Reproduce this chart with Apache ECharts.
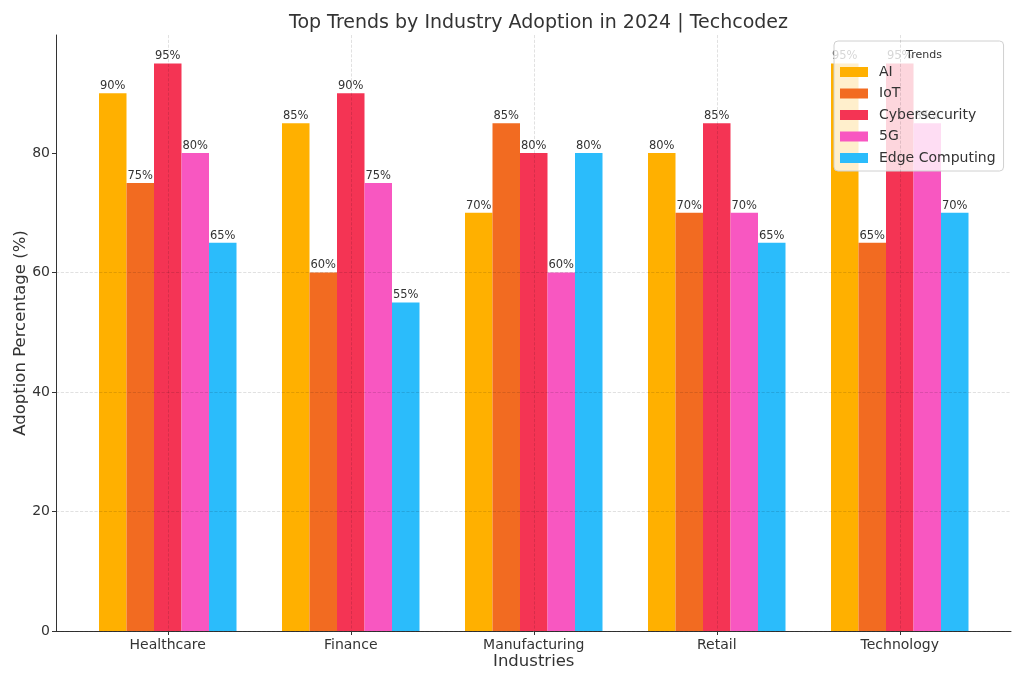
<!DOCTYPE html>
<html>
<head>
<meta charset="utf-8">
<script src="https://cdn.jsdelivr.net/npm/echarts@6/dist/echarts.min.js"></script>
<style>html,body{margin:0;padding:0;background:#fff}#c{width:1024px;height:683px}</style>
</head>
<body>
<div id="c"></div>
<script>
const categories = ['Healthcare', 'Finance', 'Manufacturing', 'Retail', 'Technology'];
const seriesNames = ['AI', 'IoT', 'Cybersecurity', '5G', 'Edge Computing'];
const aiValues = [90, 85, 70, 80, 95];
const iotValues = [75, 60, 85, 70, 65];
const cyberValues = [95, 90, 80, 85, 95];
const fiveGValues = [80, 75, 60, 70, 85];
const edgeValues = [65, 55, 80, 65, 70];
const yTicks = [0, 20, 40, 60, 80];
const colors = ['#FFB000', '#F26B21', '#F43454', '#F857C1', '#2BBCFB'];
const allValues = [aiValues, iotValues, cyberValues, fiveGValues, edgeValues];

const FONT = 'DejaVu Sans';
const yMax = 99.75;

const chart = echarts.init(document.getElementById('c'));
const series = seriesNames.map((name, i) => ({
  name: name,
  type: 'bar',
  xAxisIndex: 1,
  yAxisIndex: 1,
  data: allValues[i],
  barWidth: 27.5,
  barGap: '0%',
  itemStyle: { color: colors[i] },
  label: {
    show: true,
    position: 'top',
    distance: 1,
    formatter: '{c}%',
    fontFamily: FONT,
    fontSize: 11.5,
    color: '#333'
  },
  emphasis: { disabled: true },
  animation: false
}));

chart.setOption({
  animation: false,
  textStyle: { fontFamily: FONT },
  title: [
    {
      text: 'Top Trends by Industry Adoption in 2024 | Techcodez',
      left: 533.5,
      textAlign: 'center',
      top: 9,
      textStyle: { fontFamily: FONT, fontSize: 19, fontWeight: 'normal', color: '#333' }
    },
    {
      text: 'Trends',
      left: 919,
      textAlign: 'center',
      top: 45,
      z: 10,
      textStyle: { fontFamily: FONT, fontSize: 11, fontWeight: 'normal', color: '#333' }
    }
  ],
  legend: {
    orient: 'vertical',
    left: 834,
    top: 41,
    padding: [23, 8, 5, 6],
    itemWidth: 28,
    itemHeight: 10,
    itemGap: 5.5,
    icon: 'rect',
    backgroundColor: 'rgba(255,255,255,0.8)',
    borderColor: '#d0d0d0',
    borderWidth: 1,
    borderRadius: 4,
    textStyle: { fontFamily: FONT, fontSize: 14, color: '#333', lineHeight: 16, padding: [0, 0, 0, 6] },
    data: seriesNames
  },
  grid: [
    { left: 56, right: 13, top: 35, bottom: 52 },
    { left: 76.25, right: 32.75, top: 35, bottom: 52 }
  ],
  xAxis: [
    {
      type: 'value', gridIndex: 0, min: 0, max: 1,
      axisLine: { show: true, onZero: false, lineStyle: { color: '#333', width: 1 } },
      axisTick: { show: false }, axisLabel: { show: false }, splitLine: { show: false }
    },
    {
      type: 'category', gridIndex: 1, data: categories,
      axisLine: { show: false },
      axisTick: { show: true, alignWithLabel: true, length: 4, lineStyle: { color: '#333' } },
      axisLabel: { fontFamily: FONT, fontSize: 14, color: '#333', margin: 7 },
      splitLine: { show: true, alignWithLabel: true, lineStyle: { color: 'rgba(0,0,0,0.15)', type: 'dashed', width: 0.8 } },
      z: 5,
      name: 'Industries',
      nameLocation: 'middle',
      nameGap: 22,
      nameMoveOverlap: false,
      nameTextStyle: { fontFamily: FONT, fontSize: 16.5, color: '#333' }
    }
  ],
  yAxis: [
    {
      type: 'value', gridIndex: 0, min: 0, max: yMax, interval: 20,
      axisLine: { show: true, lineStyle: { color: '#333', width: 1 } },
      axisTick: { show: true, length: 4, lineStyle: { color: '#333' }, customValues: yTicks },
      axisLabel: { fontFamily: FONT, fontSize: 14, color: '#333', margin: 6, customValues: yTicks },
      splitLine: { show: true, showMaxLine: false, lineStyle: { color: 'rgba(0,0,0,0.15)', type: 'dashed', width: 0.8 } },
      z: 5,
      name: 'Adoption Percentage (%)',
      nameLocation: 'middle',
      nameGap: 27,
      nameMoveOverlap: false,
      nameTextStyle: { fontFamily: FONT, fontSize: 16.5, color: '#333' }
    },
    {
      type: 'value', gridIndex: 1, min: 0, max: yMax, interval: 20, show: false,
      splitLine: { show: false }
    }
  ],
  series: series
});
</script>
</body>
</html>
